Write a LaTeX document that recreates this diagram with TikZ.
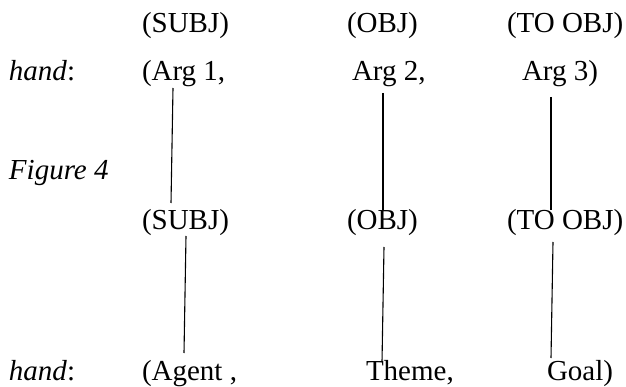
\documentclass[tikz,border=0pt]{standalone}
\usepackage{fontspec}
\setmainfont{Liberation Serif}
\usetikzlibrary{calc}
\begin{document}
\begin{tikzpicture}[x=1pt,y=-1pt,
  lbl/.style={anchor=base west,inner sep=0pt,outer sep=0pt,font=\fontsize{29}{34}\selectfont},
  link/.style={line width=1.1pt,black}]
\useasboundingbox (0,0) rectangle (626,387);
% row 1
\node[lbl] (s1) at (142,33) {(SUBJ)};
\node[lbl] (o1) at (347,33) {(OBJ)};
\node[lbl] (t1) at (507,33) {(TO OBJ)};
% row 2
\node[lbl] (h1) at (9,81) {\textit{hand}:};
\node[lbl] (arg1) at (142,81) {(Arg 1,};
\node[lbl] (arg2) at (352,81) {Arg 2,};
\node[lbl] (arg3) at (522,81) {Arg 3)};
% figure label
\node[lbl] (fig) at (9,180) {\textit{Figure 4}};
% row 3
\node[lbl] (s2) at (142,230) {(SUBJ)};
\node[lbl] (o2) at (347,230) {(OBJ)};
\node[lbl] (t2) at (507,230) {(TO OBJ)};
% row 4
\node[lbl] (h2) at (9,380) {\textit{hand}:};
\node[lbl] (agent) at (142,380) {(Agent ,};
\node[lbl] (theme) at (366,380) {Theme,};
\node[lbl] (goal) at (547,380) {Goal)};
% links
\draw[link] ($(arg1.base west)+(31,7)$) -- ($(s2.base west)+(29,-27)$);
\draw[link] ($(arg2.base west)+(31,12)$) -- ($(o2.base west)+(36,-20)$);
\draw[link] ($(arg3.base west)+(29,16)$) -- ($(t2.base west)+(44,-20)$);
\draw[link] ($(s2.base west)+(44,6)$) -- ($(agent.base west)+(42,-27)$);
\draw[link] ($(o2.base west)+(37,17)$) -- ($(theme.base west)+(16,-18)$);
\draw[link] ($(t2.base west)+(46,12)$) -- ($(goal.base west)+(4,-22)$);
\end{tikzpicture}
\end{document}
